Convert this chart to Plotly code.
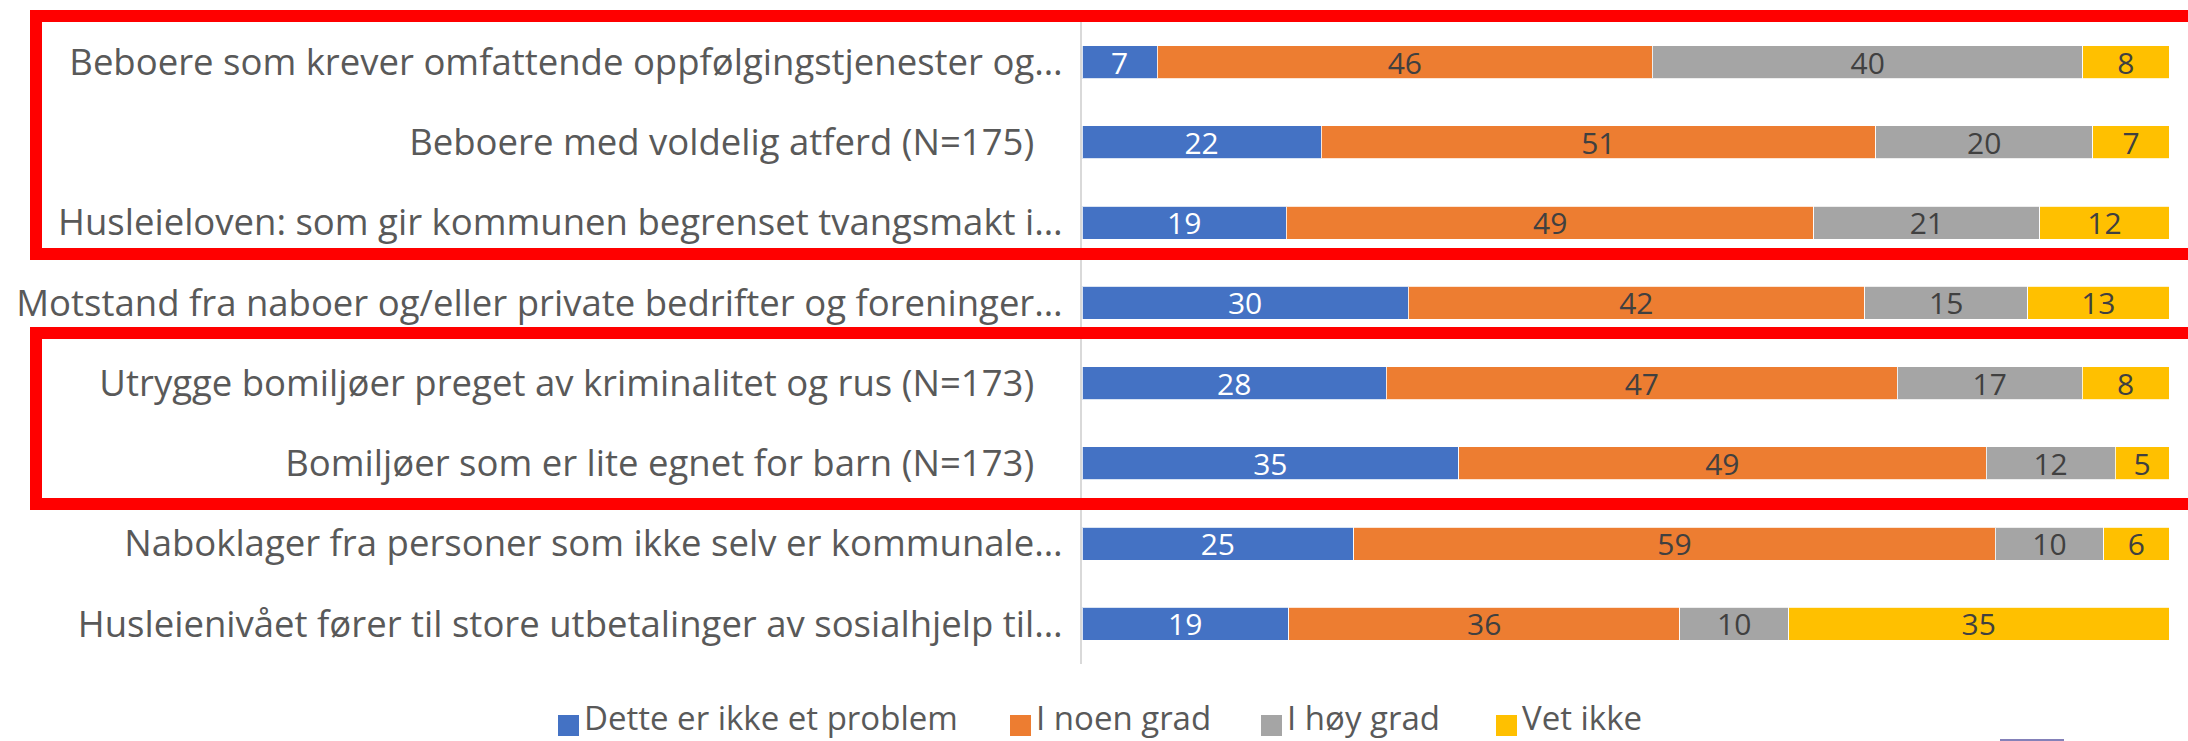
import plotly.graph_objects as go

# ---- data ----
categories = [
    "Beboere som krever omfattende oppfølgingstjenester og…",
    "Beboere med voldelig atferd (N=175)",
    "Husleieloven: som gir kommunen begrenset tvangsmakt i…",
    "Motstand fra naboer og/eller private bedrifter og foreninger…",
    "Utrygge bomiljøer preget av kriminalitet og rus (N=173)",
    "Bomiljøer som er lite egnet for barn (N=173)",
    "Naboklager fra personer som ikke selv er kommunale…",
    "Husleienivået fører til store utbetalinger av sosialhjelp til…",
]
series_names = ["Dette er ikke et problem", "I noen grad", "I høy grad", "Vet ikke"]
ikke_problem = [7, 22, 19, 30, 28, 35, 25, 19]
noen_grad = [46, 51, 49, 42, 47, 49, 59, 36]
hoy_grad = [40, 20, 21, 15, 17, 12, 10, 10]
vet_ikke = [8, 7, 12, 13, 8, 5, 6, 35]

series_values = [ikke_problem, noen_grad, hoy_grad, vet_ikke]
colors = ["#4472C4", "#ED7D31", "#A5A5A5", "#FFC000"]
text_colors = ["#FFFFFF", "#404040", "#404040", "#404040"]

# labels: full (non-truncated) labels carry trailing padding as in the original
NB = "\u00a0"
tick_text = [c if c.endswith("…") else c + NB * 3 for c in categories]

W, H = 2188, 741
L, R, T, B = 1082, 19, 22, 77
PW, PH = W - L - R, H - T - B

def px_x(px):
    return (px - L) / PW

def px_y(py):
    return (H - B - py) / PH

FONT = "Open Sans"

fig = go.Figure()
for name, vals, col, tcol in zip(series_names, series_values, colors, text_colors):
    fig.add_trace(go.Bar(
        y=categories, x=vals, orientation="h", name=name,
        marker=dict(color=col, line=dict(color="rgba(255,255,255,0.8)", width=1)),
        text=[str(v) for v in vals], textposition="inside",
        insidetextanchor="middle", textangle=0, constraintext="none",
        textfont=dict(family=FONT, size=30, color=tcol),
        showlegend=False,
    ))

shapes = []
annotations = []
# red highlight frames
for y0, y1 in [(16, 254), (333, 504)]:
    shapes.append(dict(type="rect", xref="paper", yref="paper",
                       x0=px_x(36), x1=px_x(2210), y0=px_y(y1), y1=px_y(y0),
                       line=dict(color="#FF0000", width=12), fillcolor="rgba(0,0,0,0)",
                       layer="above"))

# custom legend
legend_sq_x = [558, 1010, 1261, 1496]
for name, col, sx in zip(series_names, colors, legend_sq_x):
    shapes.append(dict(type="rect", xref="paper", yref="paper",
                       x0=px_x(sx), x1=px_x(sx + 21), y0=px_y(736), y1=px_y(715),
                       line=dict(width=0), fillcolor=col))
    annotations.append(dict(xref="paper", yref="paper", x=px_x(sx + 25), y=px_y(741),
                            xanchor="left", yanchor="bottom", showarrow=False,
                            borderpad=0,
                            text=name, font=dict(family=FONT, size=33, color="#595959")))

# small purple stroke at bottom edge
shapes.append(dict(type="line", xref="paper", yref="paper",
                   x0=px_x(2000), x1=px_x(2064), y0=px_y(740), y1=px_y(740),
                   line=dict(color="#5B57A2", width=1.5)))

fig.update_layout(
    width=W, height=H, autosize=False,
    margin=dict(l=L, r=R, t=T, b=B, pad=0),
    barmode="stack", barnorm="percent", bargap=0.59,
    plot_bgcolor="white", paper_bgcolor="white",
    font=dict(family=FONT, color="#595959"),
    xaxis=dict(range=[0, 100], showticklabels=False, showgrid=False,
               zeroline=False, showline=False, fixedrange=True, automargin=False),
    yaxis=dict(autorange="reversed", showline=True, linecolor="#D9D9D9", linewidth=2,
               ticks="", tickmode="array", tickvals=categories, ticktext=tick_text,
               ticklabelstandoff=10, automargin=False,
               tickfont=dict(family=FONT, size=36.5, color="#595959"),
               showgrid=False, zeroline=False),
    shapes=shapes, annotations=annotations,
    showlegend=False,
)

fig.write_html("out.html",
               config={"displayModeBar": False},
               post_script="document.body.style.margin='0';document.body.style.overflow='hidden';")
